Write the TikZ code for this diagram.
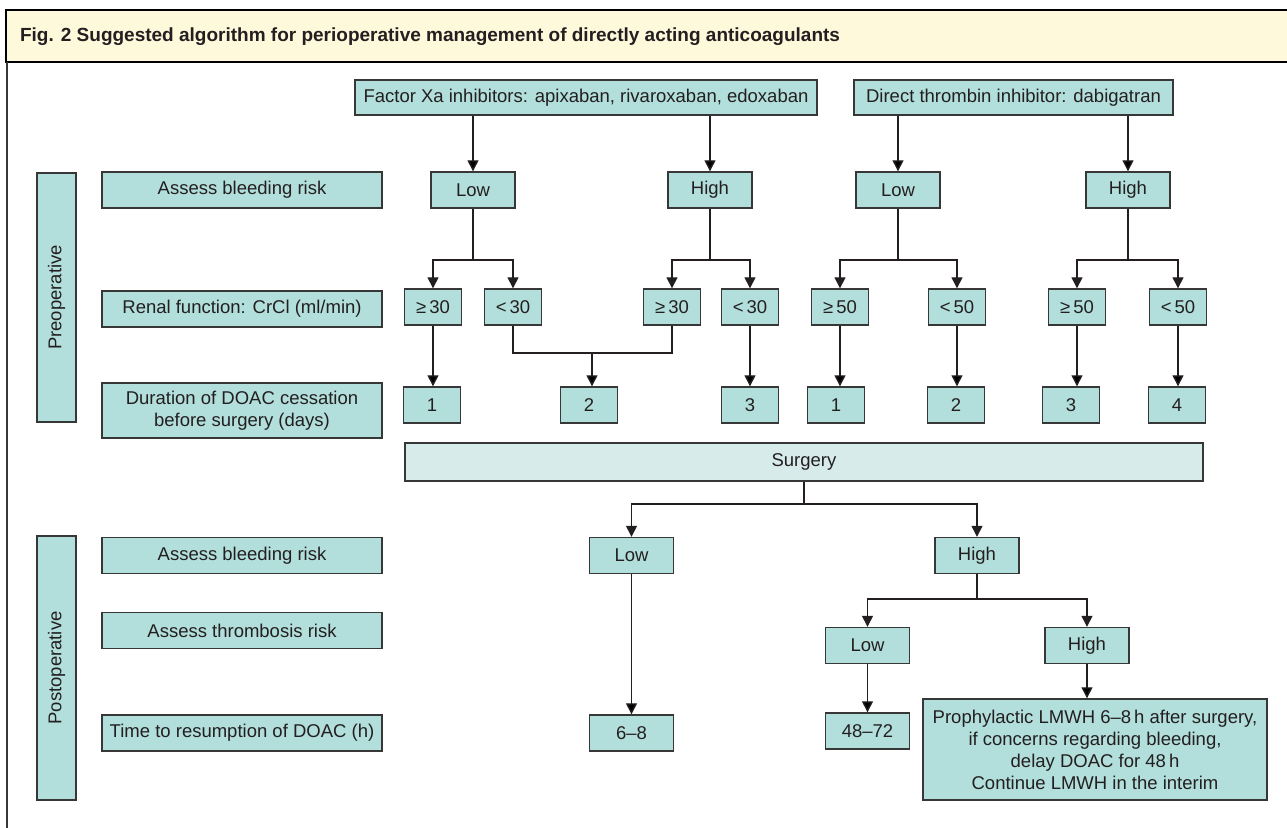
\documentclass[tikz,border=0pt]{standalone}
\usepackage{fontspec}
\setmainfont{Liberation Sans}
\usetikzlibrary{arrows.meta}
\definecolor{boxfill}{RGB}{178,223,219}
\definecolor{surgfill}{RGB}{215,236,234}
\definecolor{headfill}{RGB}{255,249,220}
\definecolor{linegray}{RGB}{55,55,55}
\definecolor{textdark}{RGB}{35,31,32}

\begin{document}
\begin{tikzpicture}[
    x=0.5pt, y=-0.5pt,
    >={Triangle[length=5.5pt,width=5.5pt]},
    font=\fontsize{9.25}{11}\selectfont,
    box/.style={draw=linegray, fill=boxfill, line width=0.7pt, text=textdark,
                inner sep=0pt, minimum width=42pt, minimum height=18pt},
    cutbox/.style={box, minimum width=28.5pt},
    rowbox/.style={box, minimum width=140pt, align=center},
    sidebox/.style={box, rotate=90, minimum height=19.5pt},
    normal line/.style={draw=textdark, line width=0.7pt}
  ]
\useasboundingbox (0,0) rectangle (1287,828);
%
% header and frame
\filldraw[fill=headfill, draw=black, line width=0.9pt] (6,10) rectangle (1300,62);
\node[anchor=base west, text=textdark, font=\fontsize{9.5}{11}\selectfont\bfseries] (title) at (13,42)
  {Fig. 2 Suggested algorithm for perioperative management of directly acting anticoagulants};
\draw[linegray, line width=1pt] (7,62) -- (7,840);
%
% drug classes
\node[box, minimum width=231pt, minimum height=17.5pt] (factor) at (586,97.5) {Factor Xa inhibitors: apixaban, rivaroxaban, edoxaban};
\node[box, minimum width=159.5pt, minimum height=17.5pt] (direct) at (1013.5,97.5) {Direct thrombin inhibitor: dabigatran};
%
% preoperative rows
\node[sidebox, minimum width=124.5pt] (pre) at (56.5,297.5) {Preoperative};
\node[rowbox] (preBleed) at (242,190) {Assess bleeding risk};
\node[rowbox] (renal) at (242,309) {Renal function: CrCl (ml/min)};
\node[rowbox, minimum height=27.5pt] (cease) at (242,410.5) {Duration of DOAC cessation\\before surgery (days)};
%
\node[box] (lowA) at (473,190) {Low};
\node[box] (highA) at (710,190) {High};
\node[box] (lowB) at (898,190) {Low};
\node[box] (highB) at (1128,190) {High};
%
\node[cutbox] (geA) at (433,307) {≥\,30};
\node[cutbox] (ltA) at (513,307) {<\,30};
\node[cutbox] (geB) at (672,307) {≥\,30};
\node[cutbox] (ltB) at (750,307) {<\,30};
\node[cutbox] (geC) at (840,307) {≥\,50};
\node[cutbox] (ltC) at (957,307) {<\,50};
\node[cutbox] (geD) at (1077,307) {≥\,50};
\node[cutbox] (ltD) at (1178,307) {<\,50};
%
\node[cutbox] (dayA1) at (432,405) {1};
\node[cutbox] (dayA2) at (589,405) {2};
\node[cutbox] (dayA3) at (750,405) {3};
\node[cutbox] (dayB1) at (836,405) {1};
\node[cutbox] (dayB2) at (956,405) {2};
\node[cutbox] (dayB3) at (1071,405) {3};
\node[cutbox] (dayB4) at (1177,405) {4};
%
\node[box, fill=surgfill, minimum width=399pt, minimum height=19pt] (surgery) at (804,462) {Surgery};
%
% postoperative rows
\node[sidebox, minimum width=132pt] (post) at (56.5,668) {Postoperative};
\node[rowbox] (postBleed) at (242,555.5) {Assess bleeding risk};
\node[rowbox] (thromb) at (242,630.5) {Assess thrombosis risk};
\node[rowbox] (resume) at (242,733) {Time to resumption of DOAC (h)};
%
\node[box] (lowP) at (631.5,555.5) {Low};
\node[box] (highP) at (977,555.5) {High};
\node[box] (lowT) at (867.5,645.5) {Low};
\node[box] (highT) at (1087,645.5) {High};
\node[box] (hrsLow) at (631.5,733) {6--8};
\node[box] (hrsT) at (867.5,731) {48--72};
\node[box, minimum width=172pt, minimum height=50.5pt, align=center] (lmwh) at (1095,749.5)
  {Prophylactic LMWH 6--8\,h after surgery,\\if concerns regarding bleeding,\\delay DOAC for 48\,h\\Continue LMWH in the interim};
%
% branch points
\coordinate (brA) at (473,260);
\coordinate (brB) at (710,260);
\coordinate (brC) at (898,260);
\coordinate (brD) at (1128,260);
\coordinate (join) at (592,353);
\coordinate (brS) at (804,504);
\coordinate (brT) at (977,599);
%
\path[normal line] (factor.south -| lowA) edge[->] (lowA);
\path[normal line] (factor.south -| highA) edge[->] (highA);
\path[normal line] (direct.south -| lowB) edge[->] (lowB);
\path[normal line] (direct.south -| highB) edge[->] (highB);
%
\draw[normal line, ->] (lowA) -- (brA) -| (geA);
\draw[normal line, ->] (brA) -| (ltA);
\draw[normal line, ->] (highA) -- (brB) -| (geB);
\draw[normal line, ->] (brB) -| (ltB);
\draw[normal line, ->] (lowB) -- (brC) -| (geC);
\draw[normal line, ->] (brC) -| (ltC);
\draw[normal line, ->] (highB) -- (brD) -| (geD);
\draw[normal line, ->] (brD) -| (ltD);
%
\path[normal line] (geA) edge[->] (geA |- dayA1.north);
\draw[normal line] (ltA) |- (join) -| (geB);
\path[normal line] (join) edge[->] (join |- dayA2.north);
\path[normal line] (ltB) edge[->] (ltB |- dayA3.north);
\path[normal line] (geC) edge[->] (geC |- dayB1.north);
\path[normal line] (ltC) edge[->] (ltC |- dayB2.north);
\path[normal line] (geD) edge[->] (geD |- dayB3.north);
\path[normal line] (ltD) edge[->] (ltD |- dayB4.north);
%
\draw[normal line, ->] (surgery) -- (brS) -| (lowP);
\draw[normal line, ->] (brS) -| (highP);
\draw[normal line, ->] (highP) -- (brT) -| (lowT);
\draw[normal line, ->] (brT) -| (highT);
\path[normal line] (lowP) edge[->] (hrsLow);
\path[normal line] (lowT) edge[->] (hrsT);
\path[normal line] (highT) edge[->] (highT |- lmwh.north);
\end{tikzpicture}
\end{document}
